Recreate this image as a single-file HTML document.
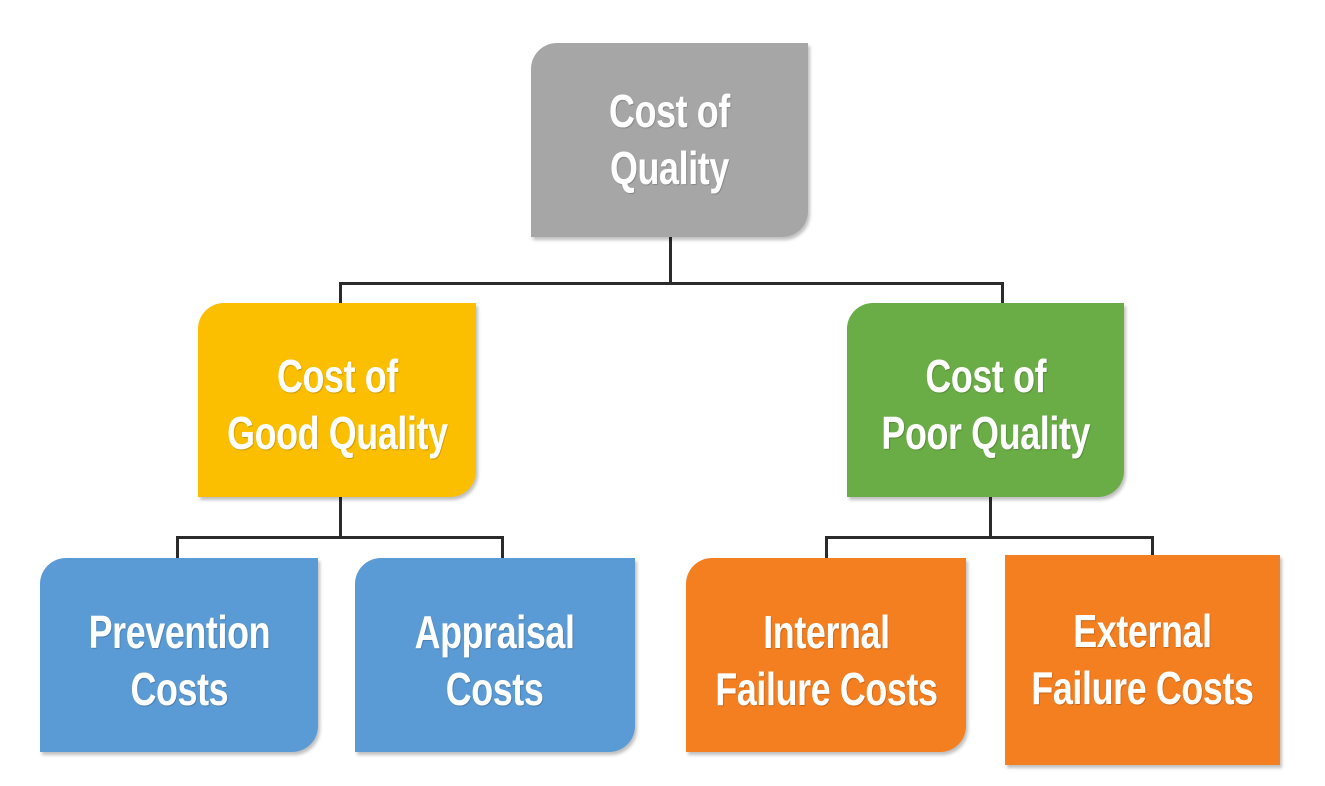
<!DOCTYPE html>
<html><head><style>
body{margin:0;width:1325px;height:786px;background:#fff;position:relative;overflow:hidden;font-family:"Liberation Sans",sans-serif;}
.b{position:absolute;border-radius:26px 0 26px 0;color:#fff;font-weight:bold;font-size:46px;line-height:57px;display:flex;align-items:center;justify-content:center;text-align:center;box-shadow:2px 3px 3px rgba(0,0,0,0.25);letter-spacing:-0.5px;text-shadow:1px 1px 1px rgba(0,0,0,0.2);box-sizing:border-box;}
.b span{display:inline-block;transform:scaleX(0.78);white-space:nowrap;}
.l{position:absolute;background:#2b2b2b;}
</style></head><body>
<div class="l" style="left:669px;top:237px;width:3px;height:47px"></div>
<div class="l" style="left:339px;top:282px;width:665px;height:3px"></div>
<div class="l" style="left:339px;top:282px;width:3px;height:22px"></div>
<div class="l" style="left:1001px;top:282px;width:3px;height:22px"></div>
<div class="l" style="left:339px;top:497px;width:3px;height:41px"></div>
<div class="l" style="left:176px;top:536px;width:328px;height:3px"></div>
<div class="l" style="left:176px;top:536px;width:3px;height:22px"></div>
<div class="l" style="left:501px;top:536px;width:3px;height:22px"></div>
<div class="l" style="left:989px;top:497px;width:3px;height:41px"></div>
<div class="l" style="left:825px;top:536px;width:329px;height:3px"></div>
<div class="l" style="left:825px;top:536px;width:3px;height:22px"></div>
<div class="l" style="left:1151px;top:536px;width:3px;height:20px"></div>

<div class="b" style="left:531px;top:43px;width:277px;height:194px;background:#a6a6a6"><span>Cost of<br>Quality</span></div>
<div class="b" style="left:198px;top:303px;width:278px;height:194px;background:#fcbf00;padding-top:10px"><span>Cost of<br>Good Quality</span></div>
<div class="b" style="left:847px;top:303px;width:277px;height:194px;background:#6aac45;padding-top:10px"><span>Cost of<br>Poor Quality</span></div>
<div class="b" style="left:40px;top:558px;width:278px;height:194px;background:#5b9bd5;padding-top:12px"><span>Prevention<br>Costs</span></div>
<div class="b" style="left:355px;top:558px;width:280px;height:194px;background:#5b9bd5;padding-top:12px"><span>Appraisal<br>Costs</span></div>
<div class="b" style="left:686px;top:558px;width:280px;height:194px;background:#f47f20;padding-top:12px"><span>Internal<br>Failure Costs</span></div>
<div class="b" style="left:1005px;top:555px;width:275px;height:210px;background:#f47f20;border-radius:0;padding-bottom:0px"><span>External<br>Failure Costs</span></div>
</body></html>
